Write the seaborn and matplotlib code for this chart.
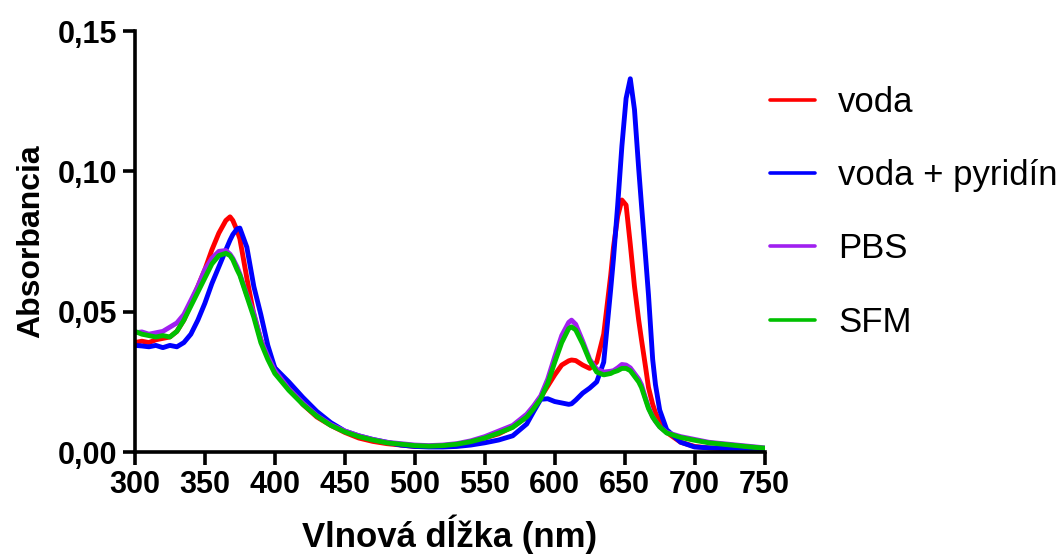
import matplotlib
matplotlib.use("Agg")
import matplotlib.pyplot as plt
import seaborn as sns
import pandas as pd
from matplotlib.ticker import FuncFormatter, MultipleLocator
from matplotlib.lines import Line2D

wavelength = [300, 305, 310, 315, 320, 325, 330, 335, 340, 345, 350, 355, 360, 365, 368, 370, 373,
              375, 380, 385, 390, 395, 400,
              410, 420, 430, 440, 450, 460, 470, 480, 490, 500, 510, 520, 530, 540, 550, 560, 570, 580,
              585, 590, 595, 600, 605, 610, 612, 615, 620, 625, 630, 635, 640, 642, 645, 648, 651,
              654, 657, 660, 662, 665, 667, 670, 672, 675, 680, 690, 700, 710, 720, 730, 740, 750]

voda = [0.039, 0.0395, 0.039, 0.040, 0.0405, 0.041, 0.043, 0.047, 0.053, 0.059, 0.065, 0.072, 0.078,
        0.0825, 0.0838, 0.0825, 0.079, 0.076, 0.062, 0.049, 0.040, 0.034, 0.030,
        0.0235, 0.017, 0.0125, 0.0095, 0.007, 0.005, 0.0038, 0.003, 0.0025, 0.002, 0.002, 0.002,
        0.0025, 0.0035, 0.005, 0.0065, 0.009, 0.0125,
        0.016, 0.0195, 0.0235, 0.0275, 0.031, 0.0325, 0.0328, 0.0326, 0.031, 0.0298, 0.032, 0.042,
        0.063, 0.073, 0.084, 0.0898, 0.088, 0.074, 0.059, 0.047, 0.040, 0.030, 0.023, 0.017, 0.014,
        0.011, 0.007, 0.0035, 0.002, 0.0015, 0.0012, 0.001, 0.0008, 0.0007]

voda_pyridin = [0.038, 0.0378, 0.0375, 0.038, 0.0372, 0.038, 0.0375, 0.039, 0.042, 0.047, 0.053,
                0.060, 0.066, 0.072, 0.0755, 0.0775, 0.0795, 0.0798, 0.073, 0.059, 0.049, 0.038, 0.030,
                0.025, 0.0195, 0.0145, 0.0105, 0.0075, 0.0058, 0.0045, 0.0035, 0.0025, 0.002, 0.0018,
                0.0018, 0.002, 0.0025, 0.0033, 0.0043, 0.0058, 0.010,
                0.0145, 0.0188, 0.019, 0.018, 0.0175, 0.017, 0.0172, 0.0185, 0.021, 0.0228, 0.025,
                0.032, 0.058, 0.069, 0.088, 0.109, 0.126, 0.133, 0.122, 0.101, 0.088, 0.069, 0.056,
                0.033, 0.024, 0.015, 0.008, 0.0035, 0.0018, 0.0015, 0.0013, 0.0012, 0.0011, 0.001]

pbs = [0.0425, 0.0428, 0.042, 0.0425, 0.043, 0.0445, 0.046, 0.049, 0.054, 0.059, 0.065, 0.069,
       0.0715, 0.0718, 0.0705, 0.069, 0.066, 0.0635, 0.056, 0.0495, 0.040, 0.034, 0.029,
       0.0225, 0.0175, 0.013, 0.0098, 0.0075, 0.0058, 0.0045, 0.0035, 0.003, 0.0025, 0.0023, 0.0025,
       0.003, 0.004, 0.0055, 0.0075, 0.0095, 0.0135,
       0.0165, 0.020, 0.026, 0.034, 0.0415, 0.0462, 0.047, 0.0455, 0.0395, 0.033, 0.0295, 0.0285,
       0.0288, 0.029, 0.030, 0.0312, 0.031, 0.030, 0.028, 0.026, 0.024, 0.019, 0.016, 0.0125, 0.011,
       0.009, 0.007, 0.0055, 0.0045, 0.0035, 0.003, 0.0025, 0.002, 0.0015]

sfm = [0.043, 0.042, 0.0415, 0.041, 0.0415, 0.041, 0.043, 0.047, 0.052, 0.057, 0.062, 0.067,
       0.070, 0.0708, 0.070, 0.0685, 0.065, 0.063, 0.0555, 0.048, 0.039, 0.033, 0.028,
       0.022, 0.017, 0.0128, 0.0095, 0.0072, 0.0055, 0.0043, 0.0033, 0.0028, 0.0023, 0.0021, 0.0023,
       0.0028, 0.0037, 0.005, 0.0068, 0.0088, 0.0125,
       0.0155, 0.019, 0.0245, 0.032, 0.039, 0.044, 0.0446, 0.0435, 0.0385, 0.0325, 0.0285, 0.0275,
       0.028, 0.0285, 0.029, 0.0298, 0.0298, 0.029, 0.027, 0.025, 0.023, 0.0185, 0.0155, 0.0125,
       0.011, 0.009, 0.0068, 0.0052, 0.0042, 0.0033, 0.0028, 0.0023, 0.0018, 0.0014]

series_names = ["voda", "voda + pyridín", "PBS", "SFM"]
series_colors = ["#FF0000", "#0000FF", "#A020F0", "#00C000"]

frames = []
for name, vals in zip(series_names, [voda, voda_pyridin, pbs, sfm]):
    frames.append(pd.DataFrame({"wl": wavelength, "abs": vals, "serie": name}))
df = pd.concat(frames, ignore_index=True)

sns.set_style("ticks")
plt.rcParams["font.family"] = ["Liberation Sans", "DejaVu Sans"]
for key in ["text.color", "axes.labelcolor", "xtick.color", "ytick.color", "axes.edgecolor"]:
    plt.rcParams[key] = "black"

fig = plt.figure(figsize=(10.62, 5.54), dpi=100)
ax = fig.add_axes([0.127, 0.184, 0.593, 0.760])

sns.lineplot(data=df, x="wl", y="abs", hue="serie", hue_order=series_names,
             palette=dict(zip(series_names, series_colors)), linewidth=3.5,
             legend=False, ax=ax, sort=False)

ax.set_xlim(300, 750)
ax.set_ylim(0, 0.15)
ax.xaxis.set_major_locator(MultipleLocator(50))
ax.yaxis.set_major_locator(MultipleLocator(0.05))
ax.yaxis.set_major_formatter(FuncFormatter(lambda v, p: f"{v:.2f}".replace(".", ",")))

for s in ["top", "right"]:
    ax.spines[s].set_visible(False)
for s in ["left", "bottom"]:
    ax.spines[s].set_linewidth(2.6)
ax.tick_params(axis="both", direction="out", length=9, width=2.6, labelsize=22, pad=4)
for lab in ax.get_xticklabels() + ax.get_yticklabels():
    lab.set_fontweight("bold")

ax.set_xlabel("Vlnová dĺžka (nm)", fontsize=25, fontweight="bold", labelpad=10)
ax.set_ylabel("Absorbancia", fontsize=23, fontweight="bold", labelpad=8)

handles = [Line2D([0], [0], color=c, lw=2.6) for c in series_colors]
fig.legend(handles, series_names, loc="upper left", bbox_to_anchor=(0.725, 0.845),
           frameon=False, fontsize=25, handlelength=1.3, handletextpad=0.66,
           labelspacing=1.16, borderpad=0.0, borderaxespad=0.0)

fig.savefig("out.png", dpi=100)
